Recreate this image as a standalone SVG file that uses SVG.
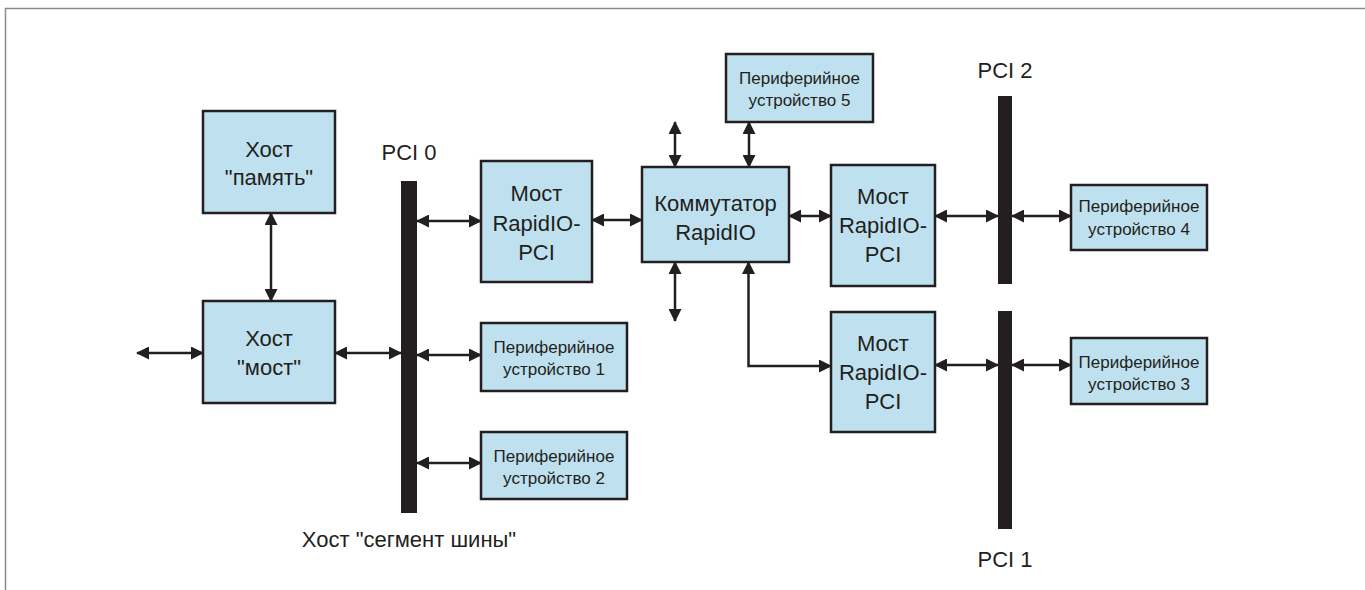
<svg xmlns="http://www.w3.org/2000/svg" width="1365" height="590" viewBox="0 0 1365 590">
<style>
.box{fill:#bfe1ef;stroke:#231f20;stroke-width:2.5}
.bus{fill:#231f20}
.t{font-family:"Liberation Sans",Arial,sans-serif;font-size:22px;fill:#231f20;text-anchor:middle}
.s{font-family:"Liberation Sans",Arial,sans-serif;font-size:17px;fill:#231f20;text-anchor:middle}
.c{fill:none;stroke:#231f20;stroke-width:2.5;marker-start:url(#ah);marker-end:url(#ah)}
</style>
<defs>
<marker id="ah" viewBox="0 0 13 13" refX="12" refY="6.5" markerWidth="13" markerHeight="13" markerUnits="userSpaceOnUse" orient="auto-start-reverse">
<path d="M0,0 L13,6.5 L0,13 z" fill="#231f20"/>
</marker>
</defs>
<rect width="1365" height="590" fill="#fff"/>
<path d="M5.5,590 V8.5 H1365" fill="none" stroke="#8c8c8c" stroke-width="1.5"/>

<g id="connectors">
<path class="c" d="M137,353 H203"/>
<path class="c" d="M335,353 H401"/>
<path class="c" d="M271,213 V301"/>
<path class="c" d="M417,221 H481"/>
<path class="c" d="M417,355 H481"/>
<path class="c" d="M417,463 H481"/>
<path class="c" d="M592,220 H642"/>
<path class="c" d="M675,122 V167"/>
<path class="c" d="M749,122 V167"/>
<path class="c" d="M675,262 V321"/>
<path class="c" d="M789,216 H831"/>
<path class="c" d="M935,216 H998"/>
<path class="c" d="M1012,216 H1071"/>
<path class="c" d="M748.5,262 V366 H831"/>
<path class="c" d="M935,365 H998"/>
<path class="c" d="M1012,365 H1071"/>
</g>

<g id="host-memory">
<rect class="box" x="203" y="111" width="132" height="102"/>
<text class="t" x="269" y="156.5">Хост</text>
<text class="t" x="269" y="185">"память"</text>
</g>
<g id="host-bridge">
<rect class="box" x="203" y="301" width="132" height="102"/>
<text class="t" x="269" y="345.5">Хост</text>
<text class="t" x="269" y="375">"мост"</text>
</g>

<g id="pci0">
<rect class="bus" x="401" y="181" width="16" height="332"/>
<text class="t" x="409" y="160">PCI 0</text>
<text class="t" x="409" y="547">Хост "сегмент шины"</text>
</g>

<g id="bridge1">
<rect class="box" x="481" y="161" width="111" height="121"/>
<text class="t" x="536.5" y="200.5">Мост</text>
<text class="t" x="536.5" y="230.5">RapidIO-</text>
<text class="t" x="536.5" y="260">PCI</text>
</g>
<g id="periph1">
<rect class="box" x="481" y="323" width="146" height="68"/>
<text class="s" x="554" y="352.5">Периферийное</text>
<text class="s" x="554" y="375">устройство 1</text>
</g>
<g id="periph2">
<rect class="box" x="481" y="432" width="146" height="67"/>
<text class="s" x="554" y="461.5">Периферийное</text>
<text class="s" x="554" y="484">устройство 2</text>
</g>

<g id="switch">
<rect class="box" x="642" y="167" width="147" height="95"/>
<text class="t" x="715.5" y="210.5">Коммутатор</text>
<text class="t" x="715.5" y="239.5">RapidIO</text>
</g>
<g id="periph5">
<rect class="box" x="726" y="54" width="147" height="68"/>
<text class="s" x="799.5" y="83.5">Периферийное</text>
<text class="s" x="799.5" y="106">устройство 5</text>
</g>

<g id="bridge2">
<rect class="box" x="831" y="165" width="104" height="121"/>
<text class="t" x="883" y="204">Мост</text>
<text class="t" x="883" y="233">RapidIO-</text>
<text class="t" x="883" y="262">PCI</text>
</g>
<g id="bridge3">
<rect class="box" x="831" y="312" width="104" height="120"/>
<text class="t" x="883" y="351">Мост</text>
<text class="t" x="883" y="380">RapidIO-</text>
<text class="t" x="883" y="409">PCI</text>
</g>

<g id="pci2">
<rect class="bus" x="998" y="96" width="14" height="188"/>
<text class="t" x="1005" y="77.5">PCI 2</text>
</g>
<g id="pci1">
<rect class="bus" x="998" y="311" width="14" height="218"/>
<text class="t" x="1005" y="566.5">PCI 1</text>
</g>

<g id="periph4">
<rect class="box" x="1071" y="185" width="136" height="65"/>
<text class="s" x="1139" y="212">Периферийное</text>
<text class="s" x="1139" y="235">устройство 4</text>
</g>
<g id="periph3">
<rect class="box" x="1071" y="338" width="136" height="66"/>
<text class="s" x="1139" y="367.5">Периферийное</text>
<text class="s" x="1139" y="389.5">устройство 3</text>
</g>
</svg>
